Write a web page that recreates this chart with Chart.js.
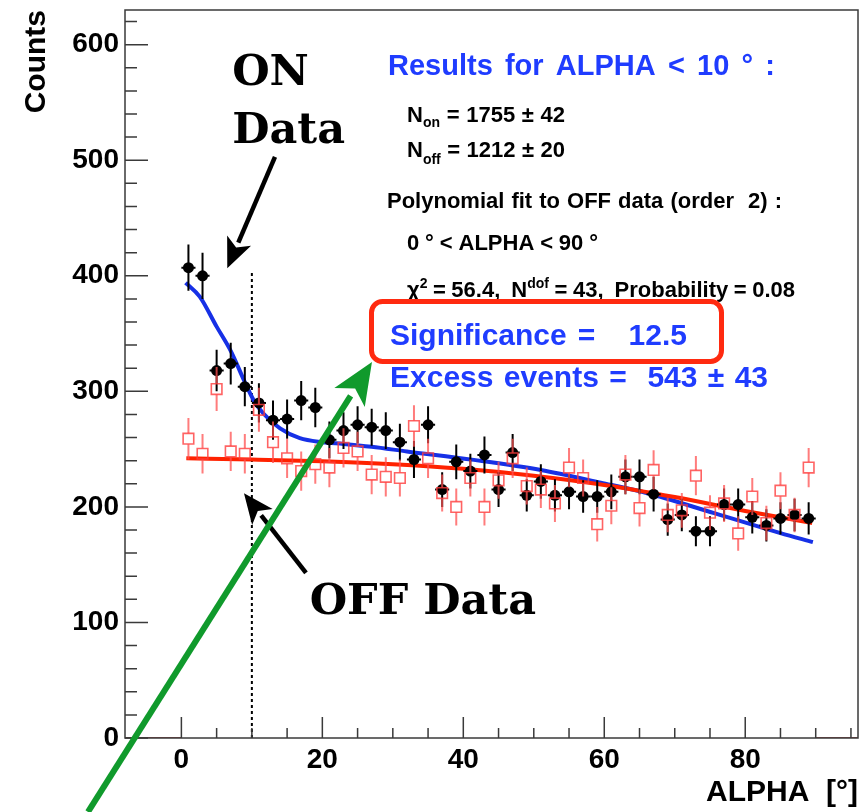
<!DOCTYPE html>
<html>
<head>
<meta charset="utf-8">
<script src="https://cdn.jsdelivr.net/npm/chart.js@4.4.1/dist/chart.umd.min.js"></script>
<style>
  html, body { margin: 0; padding: 0; background: #fff; }
  canvas { display: block; }
</style>
</head>
<body>
<canvas id="alphaPlot" width="860" height="812"></canvas>
<script>
// ALPHA bin centres in degrees (2 degree bins, 0..90)
const alphaBins = [1, 3, 5, 7, 9, 11, 13, 15, 17, 19, 21, 23, 25, 27, 29, 31, 33, 35, 37, 39, 41, 43, 45,
                   47, 49, 51, 53, 55, 57, 59, 61, 63, 65, 67, 69, 71, 73, 75, 77, 79, 81, 83, 85, 87, 89];

// ON-source counts per bin and their errors
const onCounts = [407, 400, 318, 324, 304, 290, 275, 276, 292, 286, 258, 266, 271, 269, 266, 256, 241, 271, 215, 239, 231, 245, 215,
                  247, 210, 222, 210, 213, 209, 209, 213, 226, 226, 211, 189, 193, 179, 179, 202, 202, 191, 184, 190, 193, 190];
const onErrors = [20, 20, 18, 18, 17, 17, 17, 17, 17, 17, 16, 16, 16, 16, 16, 16, 16, 16, 15, 15, 15, 16, 15,
                  16, 14, 15, 14, 15, 14, 14, 15, 15, 15, 15, 14, 14, 13, 13, 14, 14, 14, 14, 14, 14, 14];

// OFF (background) counts per bin and their errors
const offCounts = [259, 246, 302, 248, 246, 284, 256, 242, 231, 237, 234, 251, 248, 228, 226, 225, 270, 242, 212, 200, 225, 200, 223,
                   242, 218, 215, 203, 234, 225, 185, 201, 228, 199, 232, 193, 197, 227, 195, 203, 177, 209, 186, 214, 193, 234];
const offErrors = [18, 17, 19, 17, 17, 19, 18, 17, 17, 17, 17, 17, 17, 17, 17, 16, 18, 17, 16, 16, 16, 16, 16,
                   17, 16, 16, 16, 17, 16, 15, 16, 17, 16, 17, 15, 15, 17, 15, 16, 15, 16, 15, 16, 15, 17];

// Empty OFF histogram ranges outside 0..90 (zero counts)
const offEmptyLow  = [-8, 0];
const offEmptyHigh = [90, 96];

// Fit curves, sampled along ALPHA
const onFitAlpha  = [0.6, 2.6, 5, 7, 9, 10.2, 11.6, 14, 16.8, 20, 23, 27, 32, 41.5, 51, 59.5, 66, 75.6, 85, 89.6];
const onFitCounts = [394, 382, 356, 335, 308, 293, 281, 268, 259.5, 256, 254.5, 252, 248, 240.7, 232, 221, 212, 194.6, 177.3, 169.5];
const offFitAlpha  = [0.7, 10, 20, 30, 40, 50, 60, 70, 80, 89.5];
const offFitCounts = [242, 241, 239.5, 237, 233, 227, 219, 208.5, 196.5, 186];

// Signal region cut
const alphaCut = 10;
const cutLineTop = 405;

// Axis tick labels
const xTickValues = [0, 20, 40, 60, 80];
const yTickValues = [0, 100, 200, 300, 400, 500, 600];

const SANS = '"Liberation Sans", Arial, Helvetica, sans-serif';
const SERIF = '"DejaVu Serif", "Liberation Serif", serif';
const BLUE_TEXT = '#1f3cff';

Chart.defaults.font.family = SANS;

const toPoints = (xs, ys) => xs.map((x, i) => ({ x: x, y: ys[i] }));

// Vertical (and optional horizontal bin-width) error bars, drawn just before each dataset
const errorBars = {
  id: 'errorBars',
  beforeDatasetDraw(chart, args) {
    const ds = chart.data.datasets[args.index];
    if (!ds.errors) return;
    const { ctx, chartArea } = chart;
    const xs = chart.scales.x, ys = chart.scales.y;
    ctx.save();
    ctx.beginPath();
    ctx.rect(chartArea.left, chartArea.top, chartArea.right - chartArea.left, chartArea.bottom - chartArea.top);
    ctx.clip();
    ctx.strokeStyle = ds.errorColor;
    ctx.lineWidth = ds.errorWidth;
    ds.data.forEach((p, i) => {
      const x = xs.getPixelForValue(p.x);
      const y = ys.getPixelForValue(p.y);
      const yHi = ys.getPixelForValue(p.y + ds.errors[i]);
      const yLo = ys.getPixelForValue(p.y - ds.errors[i]);
      const gap = ds.errorGap || 0;
      ctx.beginPath();
      ctx.moveTo(x, yHi); ctx.lineTo(x, y - gap);
      ctx.moveTo(x, y + gap); ctx.lineTo(x, yLo);
      if (ds.binHalfWidth) {
        ctx.moveTo(xs.getPixelForValue(p.x - ds.binHalfWidth), y);
        ctx.lineTo(xs.getPixelForValue(p.x + ds.binHalfWidth), y);
      }
      ctx.stroke();
    });
    ctx.restore();
  }
};

// Frame with inward ticks (major + minor)
const frameAndTicks = {
  id: 'frameAndTicks',
  afterDatasetsDraw(chart) {
    const { ctx, chartArea: a } = chart;
    const xs = chart.scales.x, ys = chart.scales.y;
    ctx.save();
    ctx.strokeStyle = '#3a3a3a';
    ctx.lineWidth = 1.5;
    ctx.strokeRect(a.left, a.top, a.right - a.left, a.bottom - a.top);
    ctx.beginPath();
    for (let v = 0; v <= xs.max; v += 5) {
      const x = xs.getPixelForValue(v);
      const len = (v % 20 === 0) ? 21 : 10;
      ctx.moveTo(x, a.bottom); ctx.lineTo(x, a.bottom - len);
    }
    for (let v = 0; v <= ys.max; v += 20) {
      const y = ys.getPixelForValue(v);
      const len = (v % 100 === 0) ? 23 : 12;
      ctx.moveTo(a.left, y); ctx.lineTo(a.left + len, y);
    }
    ctx.stroke();
    ctx.restore();
  }
};

// Rich text line: tokens are [text, size, dy]; spaces stretch so the line spans width w
function richLine(ctx, tokens, x, baseline, w, color) {
  const pieces = [];
  tokens.forEach(([t, size, dy]) => {
    t.split(/( )/).forEach(part => {
      if (part === ' ') pieces.push({ space: true, size: size });
      else if (part) pieces.push({ t: part, size: size, dy: dy || 0 });
    });
  });
  let textW = 0, nSp = 0, natSp = 0;
  pieces.forEach(p => {
    ctx.font = 'bold ' + p.size + 'px ' + SANS;
    if (p.space) { nSp++; natSp += ctx.measureText(' ').width; }
    else { p.w = ctx.measureText(p.t).width; textW += p.w; }
  });
  let sp = nSp ? natSp / nSp : 0;
  let sx = 1;
  if (w) {
    const extra = w - textW;
    if (nSp && extra / nSp >= sp * 0.7) sp = extra / nSp;
    else sx = w / (textW + natSp);
  }
  ctx.save();
  ctx.translate(x, baseline);
  ctx.scale(sx, 1);
  ctx.fillStyle = color;
  ctx.textBaseline = 'alphabetic';
  ctx.textAlign = 'left';
  let cx = 0;
  pieces.forEach(p => {
    if (p.space) { cx += sp; return; }
    ctx.font = 'bold ' + p.size + 'px ' + SANS;
    ctx.fillText(p.t, cx, p.dy);
    cx += p.w;
  });
  ctx.restore();
}

function arrow(ctx, x0, y0, x1, y1, color, lw, headLen, headHalf) {
  const dx = x1 - x0, dy = y1 - y0;
  const L = Math.hypot(dx, dy);
  const ux = dx / L, uy = dy / L;
  const bx = x1 - ux * headLen, by = y1 - uy * headLen;
  ctx.save();
  ctx.strokeStyle = color;
  ctx.fillStyle = color;
  ctx.lineWidth = lw;
  ctx.lineCap = 'butt';
  ctx.beginPath();
  ctx.moveTo(x0, y0);
  ctx.lineTo(bx + ux * 2, by + uy * 2);
  ctx.stroke();
  ctx.beginPath();
  ctx.moveTo(x1, y1);
  ctx.lineTo(bx - uy * headHalf, by + ux * headHalf);
  ctx.lineTo(bx + ux * headLen * 0.25, by + uy * headLen * 0.25);
  ctx.lineTo(bx + uy * headHalf, by - ux * headHalf);
  ctx.closePath();
  ctx.fill();
  ctx.restore();
}

// Statistics box, labels and pointers
const annotations = {
  id: 'annotations',
  afterDraw(chart) {
    const { ctx } = chart;
    const xs = chart.scales.x, ys = chart.scales.y;
    const X = v => xs.getPixelForValue(v);
    const Y = v => ys.getPixelForValue(v);

    richLine(ctx, [['Results for ALPHA < 10 ° :', 29]], 388, 75, 387, BLUE_TEXT);
    richLine(ctx, [['N', 22], ['on', 14, 5], [' = 1755 ± 42', 22]], 407, 122, 158, '#000');
    richLine(ctx, [['N', 22], ['off', 14, 7], [' = 1212 ± 20', 22]], 407, 157, 158, '#000');
    richLine(ctx, [['Polynomial fit to OFF data (order  2) :', 22]], 387, 208, 395, '#000');
    richLine(ctx, [['0 ° < ALPHA < 90 °', 22]], 407, 250, 191, '#000');
    richLine(ctx, [['χ', 22], ['2', 14, -9], [' = 56.4,  N', 22], ['dof', 14, -9], [' = 43,  Probability = 0.08', 22]],
             407, 297, 388, '#000');
    richLine(ctx, [['Significance =   12.5', 30]], 390, 345, 297, BLUE_TEXT);
    richLine(ctx, [['Excess events =  543 ± 43', 30]], 390, 387, 378, BLUE_TEXT);

    // highlight box around the significance
    ctx.save();
    ctx.strokeStyle = '#ff2a10';
    ctx.lineWidth = 5;
    ctx.beginPath();
    ctx.roundRect(371.5, 301.5, 350, 60, 11);
    ctx.stroke();
    ctx.restore();

    // ON / OFF labels
    ctx.save();
    ctx.fillStyle = '#000';
    ctx.textAlign = 'left';
    ctx.textBaseline = 'alphabetic';
    ctx.font = 'bold 43px ' + SERIF;
    ctx.fillText('ON', X(7.2), Y(565));
    ctx.fillText('Data', X(7.2), Y(514.8));
    ctx.fillText('OFF Data', X(18.2), Y(107.3));
    ctx.restore();

    arrow(ctx, X(13.28), Y(502.8), X(6.51), Y(406.5), '#000', 4.5, 30, 13);
    arrow(ctx, X(17.68), Y(142.8), X(8.88), Y(211.8), '#000', 4.5, 30, 13);
    arrow(ctx, X(-13.25), Y(-64), X(27.04), Y(325.4), '#109a2c', 6, 42, 18);
  }
};

// keep the plotting frame at fixed pixel edges: no label overhang padding
function noOverhang(scale) {
  scale.paddingTop = 0;
  scale.paddingBottom = 0;
  scale.paddingLeft = 0;
  scale.paddingRight = 0;
}

const chart = new Chart(document.getElementById('alphaPlot'), {
  type: 'scatter',
  data: {
    datasets: [
      {
        type: 'line',
        label: 'OFF empty (low)',
        data: offEmptyLow.map(a => ({ x: a, y: 0 })),
        borderColor: '#8b1a1a',
        borderWidth: 1.5,
        pointRadius: 0,
        fill: false
      },
      {
        type: 'line',
        label: 'OFF empty (high)',
        data: offEmptyHigh.map(a => ({ x: a, y: 0 })),
        borderColor: '#8b1a1a',
        borderWidth: 1.5,
        pointRadius: 0,
        fill: false
      },
      {
        label: 'OFF data',
        data: toPoints(alphaBins, offCounts),
        errors: offErrors,
        errorColor: 'rgba(255, 80, 80, 0.75)',
        errorWidth: 2,
        errorGap: 5.5,
        pointStyle: 'rect',
        pointRadius: 7.5,
        borderWidth: 1.6,
        borderColor: 'rgba(255, 60, 60, 0.8)',
        backgroundColor: 'rgba(0, 0, 0, 0)'
      },
      {
        label: 'ON data',
        data: toPoints(alphaBins, onCounts),
        errors: onErrors,
        binHalfWidth: 1,
        errorColor: '#000',
        errorWidth: 2,
        pointStyle: 'circle',
        pointRadius: 5.5,
        borderWidth: 0,
        backgroundColor: '#000',
        borderColor: '#000'
      },
      {
        type: 'line',
        label: 'OFF fit',
        data: toPoints(offFitAlpha, offFitCounts),
        borderColor: '#ff2200',
        borderWidth: 4,
        pointRadius: 0,
        fill: false,
        cubicInterpolationMode: 'monotone'
      },
      {
        type: 'line',
        label: 'ON fit',
        data: toPoints(onFitAlpha, onFitCounts),
        borderColor: '#1630e6',
        borderWidth: 4,
        pointRadius: 0,
        fill: false,
        cubicInterpolationMode: 'monotone'
      },
      {
        type: 'line',
        label: 'ALPHA cut',
        data: [{ x: alphaCut, y: 0 }, { x: alphaCut, y: cutLineTop }],
        borderColor: '#000',
        borderWidth: 2,
        borderDash: [3, 3],
        pointRadius: 0,
        fill: false
      }
    ]
  },
  options: {
    responsive: false,
    animation: false,
    devicePixelRatio: 1,
    layout: { autoPadding: false, padding: { top: 10, right: 2, left: 0, bottom: 0 } },
    plugins: { legend: { display: false }, tooltip: { enabled: false } },
    scales: {
      x: {
        type: 'linear',
        min: -8,
        max: 96,
        grid: { display: false, drawTicks: false },
        border: { display: false },
        afterBuildTicks(scale) { scale.ticks = xTickValues.map(v => ({ value: v })); },
        ticks: { color: '#000', padding: 5, maxRotation: 0, font: { size: 28, weight: 'bold' } },
        title: {
          display: true, text: 'ALPHA  [°]', align: 'end', color: '#000',
          font: { size: 30, weight: 'bold' }, padding: { top: 0, bottom: 1 }
        },
        afterFit(scale) { scale.height = 74; noOverhang(scale); }
      },
      y: {
        type: 'linear',
        min: 0,
        max: 630,
        grid: { display: false, drawTicks: false },
        border: { display: false },
        afterBuildTicks(scale) { scale.ticks = yTickValues.map(v => ({ value: v })); },
        ticks: { color: '#000', padding: 6, font: { size: 28, weight: 'bold' } },
        title: {
          display: true, text: 'Counts', align: 'end', color: '#000',
          font: { size: 30, weight: 'bold' }, padding: { top: 19, bottom: 0 }
        },
        afterFit(scale) { scale.width = 125; noOverhang(scale); }
      }
    }
  },
  plugins: [errorBars, frameAndTicks, annotations]
});
</script>
</body>
</html>
